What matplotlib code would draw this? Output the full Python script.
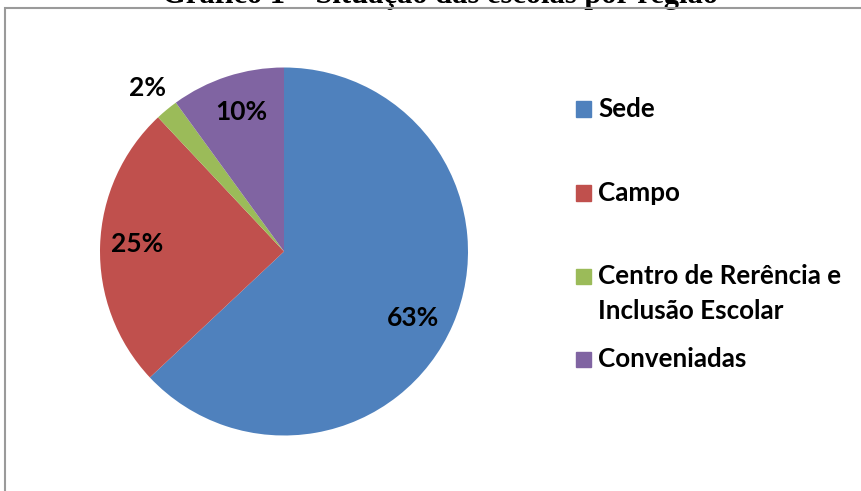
import matplotlib
matplotlib.use("Agg")
import matplotlib.pyplot as plt
from matplotlib.patches import Rectangle

# %%
labels = ["Sede", "Campo", "Centro de Rerência e\nInclusão Escolar", "Conveniadas"]
values = [63, 25, 2, 10]
colors = ["#4F81BD", "#C0504D", "#9BBB59", "#8064A2"]
title = "Gráfico 1 – Situação das escolas por região"

# where the percentage labels sit (pie units)
pct_pos = [(0.70, -0.36), (-0.80, 0.04), (-0.74, 0.89), (-0.23, 0.76)]

W, H = 861, 491
fig = plt.figure(figsize=(W / 100, H / 100), dpi=100)

# chart frame (only top/left visible, the rest is cropped)
fig.patches.append(Rectangle((5 / W, -0.1), 1.1, (H - 8) / H + 0.1,
                             transform=fig.transFigure, fill=False,
                             edgecolor="#9a9a9a", lw=1.5, zorder=1))

# title, cropped at the top of the picture
fig.text(440 / W, 1 - 2.5 / H, title, ha="center", va="baseline",
         family="Liberation Serif", weight="bold", fontsize=22, zorder=0)

# %%
cx, cy, r = 284, 251.5, 184
ax = fig.add_axes([(cx - r) / W, (H - cy - r) / H, 2 * r / W, 2 * r / H])
wedges, texts, autotexts = ax.pie(values, colors=colors, startangle=90,
                                  counterclock=False, radius=1,
                                  autopct="%1.0f%%", pctdistance=0.8,
                                  wedgeprops=dict(linewidth=0))
ax.set_xlim(-1, 1)
ax.set_ylim(-1, 1)
ax.axis("off")
for t, pos in zip(autotexts, pct_pos):
    t.set_family("Lato")
    t.set_weight("bold")
    t.set_fontsize(19)
    t.set_clip_on(False)
    t.set_position(pos)

# %%
leg_base = [116.7, 200.7, 284, 367.3]
for lab, col, yb in zip(labels, colors, leg_base):
    fig.patches.append(Rectangle((576 / W, 1 - yb / H), 15 / W, 15.5 / H,
                                 transform=fig.transFigure, color=col))
    for k, line in enumerate(lab.split("\n")):
        fig.text(598 / W, 1 - (yb + 35 * k) / H, line, ha="left", va="baseline",
                 family="Lato", weight="bold", fontsize=18.7)

fig.savefig("out.png", dpi=100)
